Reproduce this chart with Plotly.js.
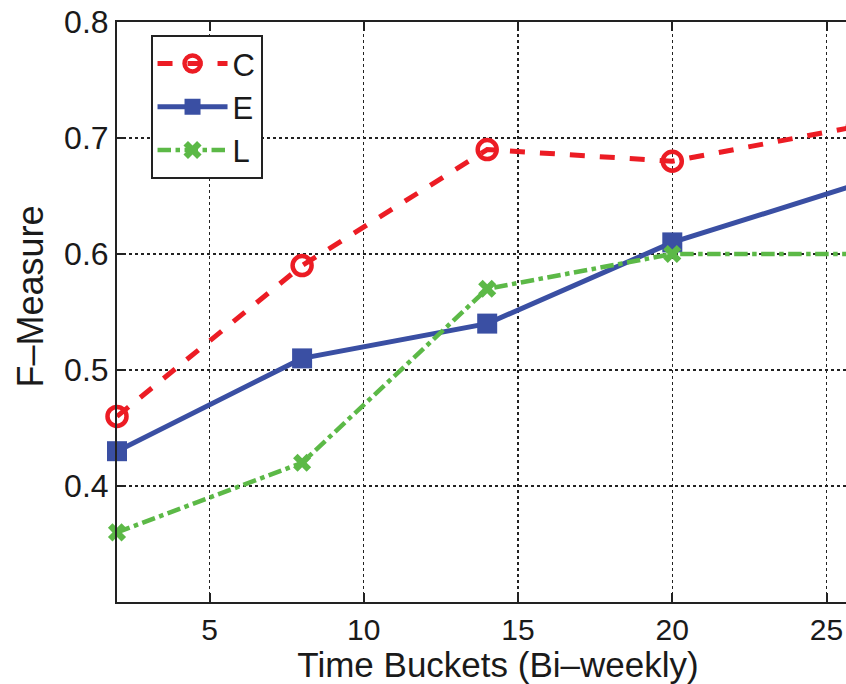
<!DOCTYPE html>
<html>
<head>
<meta charset="utf-8">
<script src="https://cdn.plot.ly/plotly-3.0.1.min.js"></script>
<style>
html,body{margin:0;padding:0;overflow:hidden;background:#fff;}
#chart{width:900px;height:684px;}
</style>
</head>
<body>
<div id="chart"></div>
<script>
var timeBuckets = [2, 8, 14, 20, 26];
var valuesC = [0.46, 0.59, 0.69, 0.68, 0.71];
var valuesE = [0.43, 0.51, 0.54, 0.61, 0.66];
var valuesL = [0.36, 0.42, 0.57, 0.60, 0.60];
var xTicks = [5, 10, 15, 20, 25];
var yTicks = [0.3, 0.4, 0.5, 0.6, 0.7, 0.8];
var yTickLabels = ['', '0.4', '0.5', '0.6', '0.7', '0.8'];

var traces = [
  {
    x: timeBuckets, y: valuesC, name: 'C', type: 'scatter', mode: 'lines+markers',
    line: {color: '#ec1c24', width: 5, dash: 'dash'},
    marker: {symbol: 'circle-open', size: 19, color: '#ec1c24', line: {width: 4.5, color: '#ec1c24'}},
    cliponaxis: false
  },
  {
    x: timeBuckets, y: valuesE, name: 'E', type: 'scatter', mode: 'lines+markers',
    line: {color: '#3a4fa3', width: 5},
    marker: {symbol: 'square', size: 20, color: '#3a4fa3'},
    cliponaxis: false
  },
  {
    x: timeBuckets, y: valuesL, name: 'L', type: 'scatter', mode: 'lines+markers',
    line: {color: '#5cb947', width: 4.5, dash: 'dashdot'},
    marker: {symbol: 'x', size: 16, color: '#5cb947'},
    cliponaxis: false
  }
];

var layout = {
  width: 900, height: 684,
  margin: {l: 117, r: 21, t: 22, b: 82},
  paper_bgcolor: '#fff', plot_bgcolor: '#fff',
  font: {family: 'Liberation Sans, Arial, sans-serif', color: '#1a1a1a', size: 32},
  showlegend: true,
  legend: {
    x: 0.044, y: 0.978, xanchor: 'left', yanchor: 'top',
    bgcolor: '#fff', bordercolor: '#222', borderwidth: 2,
    itemwidth: 70,
    font: {size: 31, color: '#1a1a1a'}
  },
  xaxis: {
    range: [2, 26.7], tickvals: xTicks, ticktext: xTicks.map(String),
    ticks: 'inside', ticklen: 9, tickwidth: 2, tickcolor: '#222',
    showline: true, linecolor: '#222', linewidth: 2, mirror: 'ticks',
    showgrid: true, gridcolor: '#222', gridwidth: 1.2, griddash: 'dot',
    zeroline: false,
    tickfont: {size: 30},
    title: {text: 'Time Buckets (Bi\u2013weekly)', font: {size: 35}, standoff: 0}
  },
  yaxis: {
    range: [0.3, 0.8], tickvals: yTicks, ticktext: yTickLabels,
    ticks: 'inside', ticklen: 9, tickwidth: 2, tickcolor: '#222',
    showline: true, linecolor: '#222', linewidth: 2, mirror: 'ticks',
    showgrid: true, gridcolor: '#222', gridwidth: 1.2, griddash: 'dot',
    zeroline: false,
    tickfont: {size: 32}
  },
  annotations: [{
    text: 'F\u2013Measure', textangle: -90, showarrow: false,
    xref: 'paper', yref: 'paper', x: -0.114, y: 0.527,
    xanchor: 'center', yanchor: 'middle',
    font: {size: 36, color: '#1a1a1a'}
  }]
};

Plotly.newPlot('chart', traces, layout, {displayModeBar: false, staticPlot: true});
</script>
</body>
</html>
